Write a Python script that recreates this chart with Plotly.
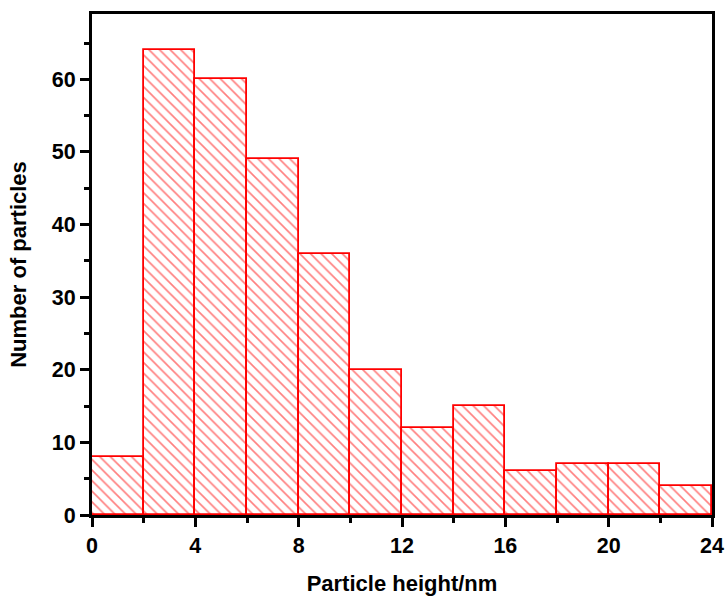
import plotly.graph_objects as go

# Histogram of particle heights (2 nm bins)
bin_starts = [0, 2, 4, 6, 8, 10, 12, 14, 16, 18, 20, 22]
bin_width = 2
counts = [8, 64, 60, 49, 36, 20, 12, 15, 6, 7, 7, 4]

x_ticks = [0, 4, 8, 12, 16, 20, 24]
y_ticks = [0, 10, 20, 30, 40, 50, 60]

centers = [s + bin_width / 2 for s in bin_starts]

fig = go.Figure(
    go.Bar(
        x=centers,
        y=counts,
        width=[bin_width] * len(counts),
        marker=dict(
            color="white",
            line=dict(color="#ff0000", width=1.8),
            pattern=dict(shape="\\", fgcolor="#ff0000", bgcolor="white",
                         size=7.5, solidity=0.22),
        ),
        showlegend=False,
    )
)

font_family = "Liberation Sans, Arial, sans-serif"

fig.update_layout(
    width=726,
    height=596,
    margin=dict(l=92, r=14, t=14, b=81),
    plot_bgcolor="white",
    paper_bgcolor="white",
    bargap=0,
    font=dict(family=font_family, size=22, color="black"),
)

fig.update_xaxes(
    range=[0, 24],
    tickvals=x_ticks,
    ticks="outside",
    ticklen=9,
    tickwidth=3,
    tickcolor="black",
    minor=dict(dtick=2, tick0=0, ticks="outside", ticklen=5, tickwidth=2.5, tickcolor="black"),
    showline=True,
    linecolor="black",
    linewidth=3,
    mirror=True,
    showgrid=False,
    zeroline=False,
    automargin=False,
    tickfont=dict(family=font_family, size=21.5, color="black", weight="bold"),
    title=dict(text="<b>Particle height/nm</b>", font=dict(size=22), standoff=23),
)

fig.update_yaxes(
    range=[0, 69],
    tickvals=y_ticks,
    ticks="outside",
    ticklen=9,
    tickwidth=3,
    tickcolor="black",
    minor=dict(dtick=5, tick0=0, ticks="outside", ticklen=5, tickwidth=2.5, tickcolor="black"),
    showline=True,
    linecolor="black",
    linewidth=3,
    mirror=True,
    showgrid=False,
    zeroline=False,
    automargin=False,
    tickfont=dict(family=font_family, size=21.5, color="black", weight="bold"),
    title=dict(text="<b>Number of particles</b>", font=dict(size=22), standoff=20),
)

fig.write_html("out.html")
